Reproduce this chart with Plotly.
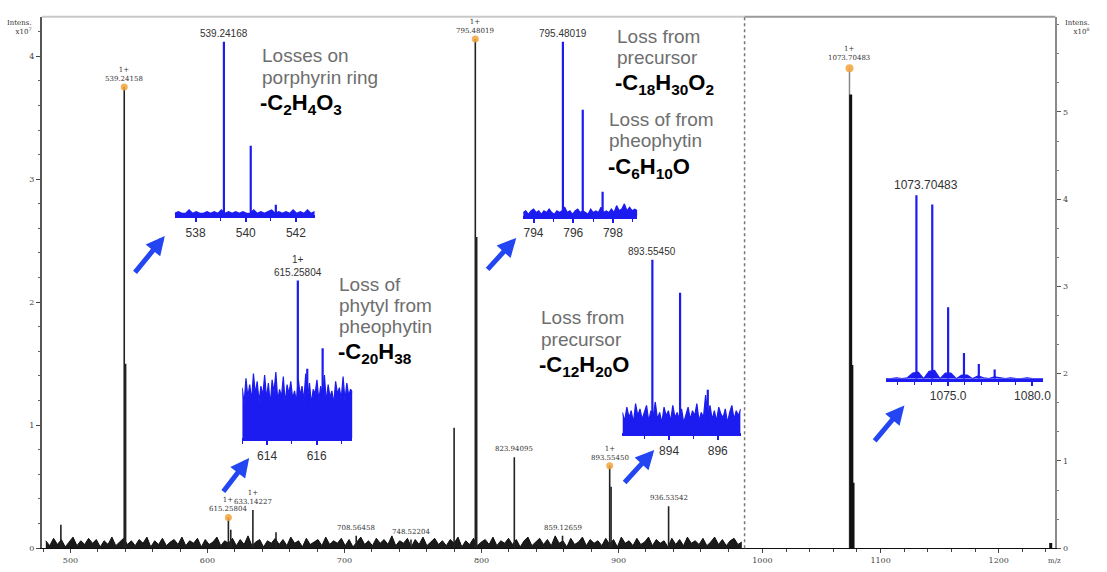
import numpy as np
import plotly.graph_objects as go

# ---------------- DATA ----------------
# main spectrum, left panel (intensity x10^7)
left_peak_mz = [493.0, 539.24, 540.24, 615.26, 617.0, 633.14, 650.0, 708.56, 748.52,
                780.0, 795.48, 796.48, 823.94, 859.13, 893.55, 894.56, 936.54]
left_peak_int = [0.19, 3.75, 1.50, 0.25, 0.15, 0.31, 0.13, 0.10, 0.07,
                 0.98, 4.14, 2.53, 0.74, 0.10, 0.67, 0.50, 0.34]
left_noise_start, left_noise_end = 482.0, 990.0
left_noise = [
    0.06,0.02,0.08,0.03,0.07,0.01,0.05,0.09,0.02,0.06,0.03,0.08,0.04,0.07,0.01,0.06,0.03,0.09,0.02,0.05,0.08,0.03,0.06,0.02,0.07,0.04,0.09,0.01,0.06,0.03,
    0.08,0.02,0.05,0.07,0.03,0.09,0.02,0.06,0.04,0.08,0.01,0.07,0.03,0.05,0.09,0.02,0.06,0.04,0.08,0.02,0.07,0.03,0.10,0.02,0.05,0.07,0.01,0.06,0.04,0.08,
    0.03,0.07,0.02,0.09,0.04,0.06,0.01,0.08,0.03,0.05,0.07,0.02,0.09,0.03,0.06,0.04,0.08,0.02,0.07,0.01,0.05,0.09,0.03,0.06,0.02,0.08,0.04,0.07,0.03,0.10,
    0.02,0.06,0.04,0.08,0.01,0.07,0.03,0.09,0.02,0.05,0.08,0.03,0.06,0.02,0.07,0.04,0.09,0.01,0.06,0.03,0.08,0.02,0.05,0.07,0.03,0.09,0.02,0.06,0.04,0.08,
    0.03,0.07,0.01,0.06,0.09,0.02,0.05,0.08,0.03,0.07,0.02,0.10,0.04,0.06,0.01,0.08,0.03,0.05,0.09,0.02,0.07,0.04,0.06,0.02,0.08,0.03,0.07,0.01,0.09,0.04,
    0.06,0.02,0.08,0.03,0.05,0.09,0.02,0.07,0.04,0.06,0.01,0.08,0.03,0.07,0.02,0.09,0.04,0.06,0.03,0.08,0.02,0.05,0.09,0.03,0.07,0.02,0.06,0.08,0.03,0.05,
]
left_marked_mz = [539.24, 615.26, 795.48, 893.55]
left_marked_int = [3.75, 0.25, 4.14, 0.67]
left_labels_mz = [539.24, 615.26, 633.14, 708.56, 748.52, 795.48, 823.94, 859.13, 893.55, 936.54]
left_labels_int = [3.75, 0.25, 0.31, 0.10, 0.07, 4.14, 0.74, 0.10, 0.67, 0.34]
left_labels_txt = ["1+<br>539.24158", "1+<br>615.25804", "1+<br>633.14227", "708.56458", "748.52204",
                   "1+<br>795.48019", "823.94095", "859.12659", "1+<br>893.55450", "936.53542"]
left_yticks = [0, 1, 2, 3, 4]
left_xticks = [500, 600, 700, 800, 900]

# right panel (intensity x10^8)
right_peak_mz = [1073.70, 1074.70, 1075.70, 1076.70, 1244.0]
right_peak_int = [5.50, 5.20, 2.10, 0.75, 0.06]
right_marked_mz = [1073.70]
right_marked_int = [5.50]
right_label_txt = "1+<br>1073.70483"
right_yticks = [0, 1, 2, 3, 4, 5]
right_xticks = [1000, 1100, 1200]

# zoomed insets (relative intensity)
ins1_mz = [539.13, 540.20, 541.20]; ins1_int = [1.0, 0.40, 0.06]
ins1_noise = [0.01,0.02,0.01,0.01,0.03,0.01,0.02,0.01,0.01,0.02,0.01,0.02,0.01,0.03,0.01,0.02,0.01,0.02,0.01,0.02,
              0.01,0.01,0.03,0.01,0.02,0.01,0.02,0.03,0.01,0.02,0.01,0.02,0.01,0.03,0.01,0.02,0.01,0.03,0.01,0.02]
ins1_ticks = [538, 540, 542]; ins1_label = "539.24168"

ins2_mz = [615.24, 615.62, 616.24]; ins2_int = [1.0, 0.44, 0.57]
ins2_noise = [0.32,0.22,0.38,0.26,0.34,0.24,0.41,0.28,0.36,0.23,0.33,0.27,0.40,0.25,0.35,0.21,0.37,0.29,0.42,0.24,
              0.31,0.26,0.39,0.22,0.34,0.28,0.36,0.25,0.30,0.23,0.38,0.27,0.33,0.24,0.41,0.26,0.35,0.22,0.31,0.28,
              0.37,0.24,0.33,0.27,0.40,0.23,0.34,0.26,0.30,0.22,0.36,0.28,0.32,0.25,0.39,0.24,0.35,0.27,0.31,0.29]
ins2_ticks = [614, 616]; ins2_label = "1+<br>615.25804"

ins3_mz = [795.48, 796.48, 797.48]; ins3_int = [1.0, 0.61, 0.14]
ins3_noise = [0.02,0.03,0.01,0.03,0.04,0.02,0.03,0.01,0.03,0.02,0.04,0.02,0.01,0.03,0.02,0.03,0.05,0.02,0.03,0.01,
              0.03,0.04,0.02,0.03,0.02,0.01,0.04,0.02,0.03,0.02,0.05,0.02,0.03,0.02,0.04,0.02,0.06,0.03,0.04,0.07,
              0.03,0.05,0.03,0.04,0.03]
ins3_ticks = [794, 796, 798]; ins3_label = "795.48019"

ins4_mz = [893.31, 894.45, 895.59]; ins4_int = [1.0, 0.81, 0.25]
ins4_noise = [0.12,0.07,0.15,0.09,0.13,0.06,0.17,0.10,0.14,0.08,0.12,0.16,0.07,0.13,0.09,0.18,0.08,0.12,0.06,0.15,
              0.10,0.13,0.07,0.16,0.09,0.12,0.08,0.14,0.06,0.11,0.15,0.08,0.13,0.10,0.17,0.07,0.12,0.09,0.22,0.10,
              0.16,0.08,0.13,0.07,0.15,0.11,0.09,0.14,0.06,0.12,0.16,0.08,0.13,0.10,0.14]
ins4_ticks = [894, 896]; ins4_label = "893.55450"

ins5_mz = [1073.12, 1074.06, 1075.0, 1075.94, 1076.82, 1077.76]; ins5_int = [1.0, 0.95, 0.39, 0.14, 0.08, 0.05]
ins5_noise = [0.0,0.0,0.005,0.0,0.005,0.03,0.035,0.0,0.04,0.045,0.0,0.03,0.03,0.0,0.02,0.02,0.0,0.015,0.005,0.0,
              0.01,0.005,0.0,0.005,0.0,0.0,0.005,0.0,0.0,0.0]
ins5_ticks = [1075.0, 1080.0]; ins5_label = "1073.70483"

# ---------------- LAYOUT HELPERS ----------------
W, H = 1107, 572
def px(x): return x / W
def py(y): return 1 - y / H

BLUE = "#1c1cf0"
ARROW = "#2346f2"
ORANGE = "#f2a33a"
FONT = "Liberation Sans"

def sticks(mz, inten):
    xs, ys = [], []
    for m, v in zip(mz, inten):
        xs += [m, m, None]
        ys += [0, v, None]
    return xs, ys

fig = go.Figure()

# left panel
nx = np.linspace(left_noise_start, left_noise_end, len(left_noise))
fig.add_trace(go.Scatter(x=nx, y=left_noise, mode="lines", line=dict(color="#111", width=1),
                         fill="tozeroy", fillcolor="#1a1a1a",
                         xaxis="x", yaxis="y", hoverinfo="skip"))
sx, sy = sticks(left_peak_mz, left_peak_int)
fig.add_trace(go.Scatter(x=sx, y=sy, mode="lines", line=dict(color="#222", width=1.6),
                         xaxis="x", yaxis="y"))
fig.add_trace(go.Scatter(x=left_marked_mz, y=left_marked_int, mode="markers",
                         marker=dict(color=ORANGE, size=7, opacity=0.85), xaxis="x", yaxis="y"))

# right panel
sx, sy = sticks(right_peak_mz[:1], right_peak_int[:1])
fig.add_trace(go.Scatter(x=sx, y=sy, mode="lines", line=dict(color="#888", width=1.5),
                         xaxis="x2", yaxis="y2"))
sx, sy = sticks(right_peak_mz[1:], right_peak_int[1:])
fig.add_trace(go.Scatter(x=sx, y=sy, mode="lines", line=dict(color="#111", width=3),
                         xaxis="x2", yaxis="y2"))
fig.add_trace(go.Scatter(x=right_marked_mz, y=right_marked_int, mode="markers",
                         marker=dict(color=ORANGE, size=8, opacity=0.85), xaxis="x2", yaxis="y2"))

# insets: (mz, int, noise, ticks, label, px box: x0, x1, base, top, range, minor dtick, tickfmt)
insets = [
    (ins1_mz, ins1_int, ins1_noise, ins1_ticks, ins1_label, 176, 317, 217, 42, [537.17, 542.75], 1, None),
    (ins2_mz, ins2_int, ins2_noise, ins2_ticks, ins2_label, 244, 355, 442, 283, [613.0, 617.44], 1, None),
    (ins3_mz, ins3_int, ins3_noise, ins3_ticks, ins3_label, 527, 642, 218, 42, [793.48, 799.23], 1, None),
    (ins4_mz, ins4_int, ins4_noise, ins4_ticks, ins4_label, 627, 746, 437, 262, [892.08, 896.94], 1, None),
    (ins5_mz, ins5_int, ins5_noise, ins5_ticks, ins5_label, 892, 1051, 382, 197, [1071.29, 1080.65], 1, ".1f"),
]

annotations = []
layout_axes = {}
for i, (mz, it, noise, ticks, label, x0, x1, base, top, rng, mdt, fmt) in enumerate(insets):
    k = i + 3
    xa, ya = f"x{k}", f"y{k}"
    ymax = 1.1
    layout_axes[f"xaxis{k}"] = dict(
        domain=[px(x0), px(x1)], range=rng, anchor=ya, showline=True, linecolor=BLUE, linewidth=3,
        ticks="outside", ticklen=4, tickwidth=1.5, tickcolor=BLUE, tickvals=ticks,
        tickformat=fmt, tickfont=dict(size=12, color="#333", family=FONT),
        showgrid=False, zeroline=False,
        minor=dict(dtick=mdt, ticks="outside", ticklen=3, tickwidth=1, tickcolor=BLUE))
    layout_axes[f"yaxis{k}"] = dict(
        domain=[py(base), py(base - ymax * (base - top))], range=[0, ymax], anchor=xa, visible=False)
    nxx = np.linspace(rng[0], rng[1], len(noise))
    fig.add_trace(go.Scatter(x=nxx, y=noise, mode="lines", line=dict(color=BLUE, width=1.2),
                             fill="tozeroy", fillcolor=BLUE,
                             xaxis=xa, yaxis=ya, hoverinfo="skip"))
    sx, sy = sticks(mz, it)
    fig.add_trace(go.Scatter(x=sx, y=sy, mode="lines", line=dict(color=BLUE, width=2.2),
                             xaxis=xa, yaxis=ya))
    annotations.append(dict(x=mz[0], y=it[0], xref=xa, yref=ya, text=label, showarrow=False,
                            yanchor="bottom", yshift=1, xshift=(10 if k == 7 else 0),
                            font=dict(size=(12 if k == 7 else 10), color="#333", family=FONT)))

# peak labels in main spectra
for m, v, t in zip(left_labels_mz, left_labels_int, left_labels_txt):
    annotations.append(dict(x=m, y=v, xref="x", yref="y", text=t, showarrow=False, yanchor="bottom",
                            yshift=2, font=dict(size=7, color="#333", family="DejaVu Serif")))
annotations.append(dict(x=right_marked_mz[0], y=right_marked_int[0], xref="x2", yref="y2", text=right_label_txt,
                        showarrow=False, yanchor="bottom", yshift=4,
                        font=dict(size=7, color="#333", family="DejaVu Serif")))

# descriptive texts
GRAY = "#6e6e6e"
def txt(x, y, t, size=19, color=GRAY, bold=False):
    annotations.append(dict(x=px(x), y=py(y), xref="paper", yref="paper", text=(f"<b>{t}</b>" if bold else t),
                            showarrow=False, xanchor="left", yanchor="middle",
                            font=dict(size=size, color=color, family=FONT)))

txt(262, 56, "Losses on"); txt(262, 78, "porphyrin ring")
txt(260, 105, "-C<sub>2</sub>H<sub>4</sub>O<sub>3</sub>", 22, "#000", True)
txt(619, 37, "Loss from"); txt(619, 58, "precursor")
txt(617, 85, "-C<sub>18</sub>H<sub>30</sub>O<sub>2</sub>", 22, "#000", True)
txt(611, 121, "Loss of from"); txt(611, 142, "pheophytin")
txt(610, 169, "-C<sub>6</sub>H<sub>10</sub>O", 22, "#000", True)
txt(339, 287, "Loss of"); txt(339, 308, "phytyl from"); txt(339, 329, "pheophytin")
txt(338, 356, "-C<sub>20</sub>H<sub>38</sub>", 22, "#000", True)
txt(543, 320, "Loss from"); txt(543, 342, "precursor")
txt(541, 369, "-C<sub>12</sub>H<sub>20</sub>O", 22, "#000", True)

# arrows (head, tail)
for hx, hy, tx, ty in [(166, 238, 135, 276), (251, 462, 224, 497), (520, 240, 490, 273),
                       (659, 454, 628, 488), (911, 409, 880, 446)]:
    annotations.append(dict(x=px(hx), y=py(hy), xref="paper", yref="paper", ax=tx - hx, ay=ty - hy,
                            text="", showarrow=True, arrowhead=2, arrowsize=0.75, arrowwidth=5,
                            arrowcolor=ARROW, standoff=0))

# axis titles
annotations.append(dict(x=px(34), y=py(17), xref="paper", yref="paper", text="Intens.<br>x10<sup>7</sup>",
                        showarrow=False, xanchor="right", yanchor="top", align="right",
                        font=dict(size=7, color="#333", family="DejaVu Serif")))
annotations.append(dict(x=px(1071), y=py(17), xref="paper", yref="paper", text="Intens.<br>x10<sup>8</sup>",
                        showarrow=False, xanchor="left", yanchor="top", align="right",
                        font=dict(size=7, color="#333", family="DejaVu Serif")))
annotations.append(dict(x=px(1062), y=py(566), xref="paper", yref="paper", text="m/z",
                        showarrow=False, xanchor="center", yanchor="middle",
                        font=dict(size=7, color="#444", family="DejaVu Serif")))

tickfont = dict(size=8, color="#444", family="DejaVu Serif")
fig.update_layout(
    width=W, height=H, margin=dict(l=0, r=0, t=0, b=0), showlegend=False,
    paper_bgcolor="white", plot_bgcolor="white",
    xaxis=dict(domain=[px(42), px(750)], range=[479, 992], anchor="y", tickvals=left_xticks,
               showline=True, linecolor="#111", linewidth=1, ticks="outside", ticklen=4, tickcolor="#444",
               tickfont=tickfont, showgrid=False, zeroline=False,
               minor=dict(dtick=20, ticks="outside", ticklen=3, tickcolor="#444")),
    yaxis=dict(domain=[py(553), py(17)], range=[0, 4.32], anchor="x", tickvals=left_yticks,
               showline=True, linecolor="#555", linewidth=1.5, ticks="outside", ticklen=4, tickcolor="#444",
               tickfont=tickfont, showgrid=False, zeroline=False,
               minor=dict(dtick=0.2, ticks="outside", ticklen=2, tickcolor="#666")),
    xaxis2=dict(domain=[px(750), px(1063)], range=[984.9, 1247.9], anchor="y2", tickvals=right_xticks,
                showline=True, linecolor="#111", linewidth=1, ticks="outside", ticklen=4, tickcolor="#444",
                tickfont=tickfont, showgrid=False, zeroline=False,
                minor=dict(dtick=20, ticks="outside", ticklen=3, tickcolor="#444")),
    yaxis2=dict(domain=[py(553), py(17)], range=[0, 6.09], anchor="x2", side="right", tickvals=right_yticks,
                showline=True, linecolor="#8a8a8a", linewidth=2, ticks="outside", ticklen=4, tickcolor="#555",
                tickfont=tickfont, showgrid=False, zeroline=False,
                minor=dict(dtick=1/3, ticks="outside", ticklen=2, tickcolor="#777")),
    annotations=annotations,
    shapes=[
        dict(type="line", xref="x domain", yref="y domain", x0=0, x1=1, y0=1, y1=1,
             line=dict(color="#c8c8c8", width=2)),
        dict(type="line", xref="x2 domain", yref="y2 domain", x0=0, x1=1, y0=1, y1=1,
             line=dict(color="#9a9a9a", width=2)),
        dict(type="line", xref="x2 domain", yref="y2 domain", x0=0, x1=0, y0=0, y1=1,
             line=dict(color="#777", width=1.5, dash="dot")),
    ],
    **layout_axes,
)

fig.write_html("out.html")
